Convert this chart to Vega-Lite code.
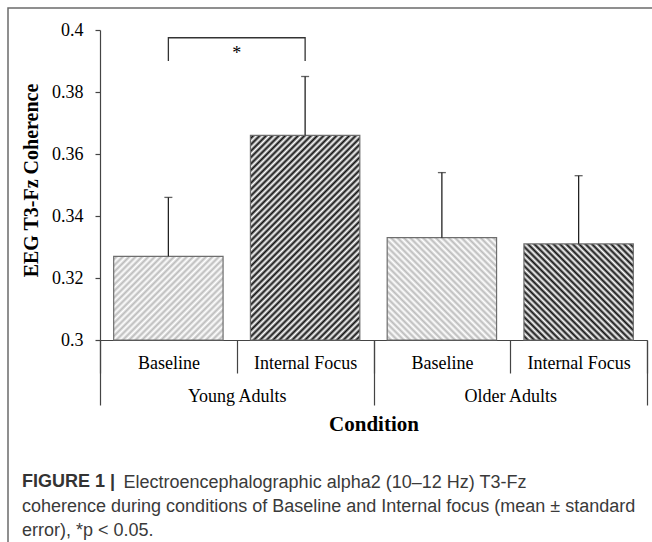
{
  "$schema": "https://vega.github.io/schema/vega-lite/v6.json",
  "autosize": {"type": "none"},
  "width": 645,
  "height": 535,
  "padding": {"left": 8, "top": 8, "right": -1, "bottom": -1},
  "background": "white",
  "config": {"view": {"stroke": "#6b6b6b", "strokeWidth": 1.5}, "axis": {"grid": false}},
  "title": {
    "text": "FIGURE 1 |",
    "subtitle": [
      "coherence during conditions of Baseline and Internal focus (mean ± standard",
      "error), *p < 0.05."
    ],
    "orient": "bottom",
    "anchor": "start",
    "frame": "group",
    "offset": -70,
    "dx": 14,
    "font": "Liberation Sans",
    "fontSize": 18,
    "fontWeight": "bold",
    "color": "#333333",
    "subtitleFont": "Liberation Sans",
    "subtitleFontSize": 18,
    "subtitleColor": "#3a3a3a",
    "subtitleLineHeight": 24.5,
    "subtitlePadding": 6.5
  },
  "data": {
    "values": [
      {"group": "Young Adults", "condition": "Baseline", "cell": "Young Adults|Baseline", "mean": 0.327, "upper": 0.346},
      {"group": "Young Adults", "condition": "Internal Focus", "cell": "Young Adults|Internal Focus", "mean": 0.366, "upper": 0.385},
      {"group": "Older Adults", "condition": "Baseline", "cell": "Older Adults|Baseline", "mean": 0.333, "upper": 0.354},
      {"group": "Older Adults", "condition": "Internal Focus", "cell": "Older Adults|Internal Focus", "mean": 0.331, "upper": 0.353}
    ]
  },
  "layer": [
    {
      "mark": {"type": "bar", "stroke": "#6e6e6e", "strokeWidth": 1.2},
      "encoding": {
        "x": {
          "field": "group", "type": "nominal",
          "scale": {"domain": ["Young Adults", "Older Adults"], "range": [92, 639], "paddingInner": 0, "paddingOuter": 0},
          "axis": {"orient": "bottom", "offset": -203, "domain": false, "tickBand": "extent", "tickSize": 65, "tickColor": "#444444", "tickWidth": 1.2,
                   "labelPadding": -18, "labelFont": "Liberation Serif", "labelFontSize": 18, "labelColor": "#000000", "labelAngle": 0, "labelOverlap": false,
                   "title": "Condition", "titleFont": "Liberation Serif", "titleFontSize": 21, "titleFontWeight": "bold", "titleColor": "#000000", "titlePadding": 8}
        },
        "xOffset": {"field": "condition", "type": "nominal", "scale": {"domain": ["Baseline", "Internal Focus"], "paddingInner": 0.2, "paddingOuter": 0.1}},
        "y": {
          "field": "mean", "type": "quantitative",
          "scale": {"domain": [0.3, 0.4], "range": [332, 22], "nice": false, "zero": false},
          "axis": {"orient": "left", "offset": -92, "values": [0.3, 0.32, 0.34, 0.36, 0.38, 0.4], "format": ".2~f",
                   "tickSize": 5, "tickColor": "#444444", "tickWidth": 1.2, "domainColor": "#444444", "domainWidth": 1.2,
                   "labelFont": "Liberation Serif", "labelFontSize": 18, "labelColor": "#000000", "labelPadding": 12,
                   "title": "EEG T3-Fz Coherence", "titleFont": "Liberation Serif", "titleFontSize": 20, "titleFontWeight": "bold", "titleColor": "#000000", "titlePadding": 10, "titleY": 172}
        },
        "y2": {"datum": 0.3},
        "fill": {
          "condition": [
            {"test": "datum.cell === 'Young Adults|Baseline'", "value": {"gradient": "linear", "x1": 0, "y1": 0, "x2": 1.845, "y2": 1.4116, "stops": [{"offset":0,"color":"#fff"},{"offset":0.01,"color":"#bbb"},{"offset":0.02,"color":"#fff"},{"offset":0.03,"color":"#bbb"},{"offset":0.04,"color":"#fff"},{"offset":0.05,"color":"#bbb"},{"offset":0.06,"color":"#fff"},{"offset":0.07,"color":"#bbb"},{"offset":0.08,"color":"#fff"},{"offset":0.09,"color":"#bbb"},{"offset":0.1,"color":"#fff"},{"offset":0.11,"color":"#bbb"},{"offset":0.12,"color":"#fff"},{"offset":0.13,"color":"#bbb"},{"offset":0.14,"color":"#fff"},{"offset":0.15,"color":"#bbb"},{"offset":0.16,"color":"#fff"},{"offset":0.17,"color":"#bbb"},{"offset":0.18,"color":"#fff"},{"offset":0.19,"color":"#bbb"},{"offset":0.2,"color":"#fff"},{"offset":0.21,"color":"#bbb"},{"offset":0.22,"color":"#fff"},{"offset":0.23,"color":"#bbb"},{"offset":0.24,"color":"#fff"},{"offset":0.25,"color":"#bbb"},{"offset":0.26,"color":"#fff"},{"offset":0.27,"color":"#bbb"},{"offset":0.28,"color":"#fff"},{"offset":0.29,"color":"#bbb"},{"offset":0.3,"color":"#fff"},{"offset":0.31,"color":"#bbb"},{"offset":0.32,"color":"#fff"},{"offset":0.33,"color":"#bbb"},{"offset":0.34,"color":"#fff"},{"offset":0.35,"color":"#bbb"},{"offset":0.36,"color":"#fff"},{"offset":0.37,"color":"#bbb"},{"offset":0.38,"color":"#fff"},{"offset":0.39,"color":"#bbb"},{"offset":0.4,"color":"#fff"},{"offset":0.41,"color":"#bbb"},{"offset":0.42,"color":"#fff"},{"offset":0.43,"color":"#bbb"},{"offset":0.44,"color":"#fff"},{"offset":0.45,"color":"#bbb"},{"offset":0.46,"color":"#fff"},{"offset":0.47,"color":"#bbb"},{"offset":0.48,"color":"#fff"},{"offset":0.49,"color":"#bbb"},{"offset":0.5,"color":"#fff"},{"offset":0.51,"color":"#bbb"},{"offset":0.52,"color":"#fff"},{"offset":0.53,"color":"#bbb"},{"offset":0.54,"color":"#fff"},{"offset":0.55,"color":"#bbb"},{"offset":0.56,"color":"#fff"},{"offset":0.57,"color":"#bbb"},{"offset":0.58,"color":"#fff"},{"offset":0.59,"color":"#bbb"},{"offset":0.6,"color":"#fff"},{"offset":0.61,"color":"#bbb"},{"offset":0.62,"color":"#fff"},{"offset":0.63,"color":"#bbb"},{"offset":0.64,"color":"#fff"},{"offset":0.65,"color":"#bbb"},{"offset":0.66,"color":"#fff"},{"offset":0.67,"color":"#bbb"},{"offset":0.68,"color":"#fff"},{"offset":0.69,"color":"#bbb"},{"offset":0.7,"color":"#fff"}]}},
            {"test": "datum.cell === 'Young Adults|Internal Focus'", "value": {"gradient": "linear", "x1": 0, "y1": 0, "x2": 0.6503, "y2": 1.2163, "stops": [{"offset":0,"color":"#fff"},{"offset":0.01,"color":"#111"},{"offset":0.02,"color":"#fff"},{"offset":0.03,"color":"#111"},{"offset":0.04,"color":"#fff"},{"offset":0.05,"color":"#111"},{"offset":0.06,"color":"#fff"},{"offset":0.07,"color":"#111"},{"offset":0.08,"color":"#fff"},{"offset":0.09,"color":"#111"},{"offset":0.1,"color":"#fff"},{"offset":0.11,"color":"#111"},{"offset":0.12,"color":"#fff"},{"offset":0.13,"color":"#111"},{"offset":0.14,"color":"#fff"},{"offset":0.15,"color":"#111"},{"offset":0.16,"color":"#fff"},{"offset":0.17,"color":"#111"},{"offset":0.18,"color":"#fff"},{"offset":0.19,"color":"#111"},{"offset":0.2,"color":"#fff"},{"offset":0.21,"color":"#111"},{"offset":0.22,"color":"#fff"},{"offset":0.23,"color":"#111"},{"offset":0.24,"color":"#fff"},{"offset":0.25,"color":"#111"},{"offset":0.26,"color":"#fff"},{"offset":0.27,"color":"#111"},{"offset":0.28,"color":"#fff"},{"offset":0.29,"color":"#111"},{"offset":0.3,"color":"#fff"},{"offset":0.31,"color":"#111"},{"offset":0.32,"color":"#fff"},{"offset":0.33,"color":"#111"},{"offset":0.34,"color":"#fff"},{"offset":0.35,"color":"#111"},{"offset":0.36,"color":"#fff"},{"offset":0.37,"color":"#111"},{"offset":0.38,"color":"#fff"},{"offset":0.39,"color":"#111"},{"offset":0.4,"color":"#fff"},{"offset":0.41,"color":"#111"},{"offset":0.42,"color":"#fff"},{"offset":0.43,"color":"#111"},{"offset":0.44,"color":"#fff"},{"offset":0.45,"color":"#111"},{"offset":0.46,"color":"#fff"},{"offset":0.47,"color":"#111"},{"offset":0.48,"color":"#fff"},{"offset":0.49,"color":"#111"},{"offset":0.5,"color":"#fff"},{"offset":0.51,"color":"#111"},{"offset":0.52,"color":"#fff"},{"offset":0.53,"color":"#111"},{"offset":0.54,"color":"#fff"},{"offset":0.55,"color":"#111"},{"offset":0.56,"color":"#fff"},{"offset":0.57,"color":"#111"},{"offset":0.58,"color":"#fff"},{"offset":0.59,"color":"#111"},{"offset":0.6,"color":"#fff"},{"offset":0.61,"color":"#111"},{"offset":0.62,"color":"#fff"},{"offset":0.63,"color":"#111"},{"offset":0.64,"color":"#fff"},{"offset":0.65,"color":"#111"},{"offset":0.66,"color":"#fff"},{"offset":0.67,"color":"#111"},{"offset":0.68,"color":"#fff"},{"offset":0.69,"color":"#111"},{"offset":0.7,"color":"#fff"},{"offset":0.71,"color":"#111"},{"offset":0.72,"color":"#fff"},{"offset":0.73,"color":"#111"},{"offset":0.74,"color":"#fff"},{"offset":0.75,"color":"#111"},{"offset":0.76,"color":"#fff"},{"offset":0.77,"color":"#111"},{"offset":0.78,"color":"#fff"},{"offset":0.79,"color":"#111"},{"offset":0.8,"color":"#fff"},{"offset":0.81,"color":"#111"},{"offset":0.82,"color":"#fff"},{"offset":0.83,"color":"#111"},{"offset":0.84,"color":"#fff"},{"offset":0.85,"color":"#111"},{"offset":0.86,"color":"#fff"},{"offset":0.87,"color":"#111"},{"offset":0.88,"color":"#fff"},{"offset":0.89,"color":"#111"},{"offset":0.9,"color":"#fff"},{"offset":0.91,"color":"#111"},{"offset":0.92,"color":"#fff"},{"offset":0.93,"color":"#111"},{"offset":0.94,"color":"#fff"},{"offset":0.95,"color":"#111"},{"offset":0.96,"color":"#fff"},{"offset":0.97,"color":"#111"},{"offset":0.98,"color":"#fff"},{"offset":0.99,"color":"#111"},{"offset":1,"color":"#fff"}]}},
            {"test": "datum.cell === 'Older Adults|Baseline'", "value": {"gradient": "linear", "x1": 1, "y1": 0, "x2": -0.5605, "y2": 1.4592, "stops": [{"offset":0,"color":"#fff"},{"offset":0.01,"color":"#bbb"},{"offset":0.02,"color":"#fff"},{"offset":0.03,"color":"#bbb"},{"offset":0.04,"color":"#fff"},{"offset":0.05,"color":"#bbb"},{"offset":0.06,"color":"#fff"},{"offset":0.07,"color":"#bbb"},{"offset":0.08,"color":"#fff"},{"offset":0.09,"color":"#bbb"},{"offset":0.1,"color":"#fff"},{"offset":0.11,"color":"#bbb"},{"offset":0.12,"color":"#fff"},{"offset":0.13,"color":"#bbb"},{"offset":0.14,"color":"#fff"},{"offset":0.15,"color":"#bbb"},{"offset":0.16,"color":"#fff"},{"offset":0.17,"color":"#bbb"},{"offset":0.18,"color":"#fff"},{"offset":0.19,"color":"#bbb"},{"offset":0.2,"color":"#fff"},{"offset":0.21,"color":"#bbb"},{"offset":0.22,"color":"#fff"},{"offset":0.23,"color":"#bbb"},{"offset":0.24,"color":"#fff"},{"offset":0.25,"color":"#bbb"},{"offset":0.26,"color":"#fff"},{"offset":0.27,"color":"#bbb"},{"offset":0.28,"color":"#fff"},{"offset":0.29,"color":"#bbb"},{"offset":0.3,"color":"#fff"},{"offset":0.31,"color":"#bbb"},{"offset":0.32,"color":"#fff"},{"offset":0.33,"color":"#bbb"},{"offset":0.34,"color":"#fff"},{"offset":0.35,"color":"#bbb"},{"offset":0.36,"color":"#fff"},{"offset":0.37,"color":"#bbb"},{"offset":0.38,"color":"#fff"},{"offset":0.39,"color":"#bbb"},{"offset":0.4,"color":"#fff"},{"offset":0.41,"color":"#bbb"},{"offset":0.42,"color":"#fff"},{"offset":0.43,"color":"#bbb"},{"offset":0.44,"color":"#fff"},{"offset":0.45,"color":"#bbb"},{"offset":0.46,"color":"#fff"},{"offset":0.47,"color":"#bbb"},{"offset":0.48,"color":"#fff"},{"offset":0.49,"color":"#bbb"},{"offset":0.5,"color":"#fff"},{"offset":0.51,"color":"#bbb"},{"offset":0.52,"color":"#fff"},{"offset":0.53,"color":"#bbb"},{"offset":0.54,"color":"#fff"},{"offset":0.55,"color":"#bbb"},{"offset":0.56,"color":"#fff"},{"offset":0.57,"color":"#bbb"},{"offset":0.58,"color":"#fff"},{"offset":0.59,"color":"#bbb"},{"offset":0.6,"color":"#fff"},{"offset":0.61,"color":"#bbb"},{"offset":0.62,"color":"#fff"},{"offset":0.63,"color":"#bbb"},{"offset":0.64,"color":"#fff"},{"offset":0.65,"color":"#bbb"},{"offset":0.66,"color":"#fff"},{"offset":0.67,"color":"#bbb"},{"offset":0.68,"color":"#fff"},{"offset":0.69,"color":"#bbb"},{"offset":0.7,"color":"#fff"}]}}
          ],
          "value": {"gradient": "linear", "x1": 1, "y1": 0, "x2": -0.651, "y2": 1.4503, "stops": [{"offset":0,"color":"#fff"},{"offset":0.01,"color":"#111"},{"offset":0.02,"color":"#fff"},{"offset":0.03,"color":"#111"},{"offset":0.04,"color":"#fff"},{"offset":0.05,"color":"#111"},{"offset":0.06,"color":"#fff"},{"offset":0.07,"color":"#111"},{"offset":0.08,"color":"#fff"},{"offset":0.09,"color":"#111"},{"offset":0.1,"color":"#fff"},{"offset":0.11,"color":"#111"},{"offset":0.12,"color":"#fff"},{"offset":0.13,"color":"#111"},{"offset":0.14,"color":"#fff"},{"offset":0.15,"color":"#111"},{"offset":0.16,"color":"#fff"},{"offset":0.17,"color":"#111"},{"offset":0.18,"color":"#fff"},{"offset":0.19,"color":"#111"},{"offset":0.2,"color":"#fff"},{"offset":0.21,"color":"#111"},{"offset":0.22,"color":"#fff"},{"offset":0.23,"color":"#111"},{"offset":0.24,"color":"#fff"},{"offset":0.25,"color":"#111"},{"offset":0.26,"color":"#fff"},{"offset":0.27,"color":"#111"},{"offset":0.28,"color":"#fff"},{"offset":0.29,"color":"#111"},{"offset":0.3,"color":"#fff"},{"offset":0.31,"color":"#111"},{"offset":0.32,"color":"#fff"},{"offset":0.33,"color":"#111"},{"offset":0.34,"color":"#fff"},{"offset":0.35,"color":"#111"},{"offset":0.36,"color":"#fff"},{"offset":0.37,"color":"#111"},{"offset":0.38,"color":"#fff"},{"offset":0.39,"color":"#111"},{"offset":0.4,"color":"#fff"},{"offset":0.41,"color":"#111"},{"offset":0.42,"color":"#fff"},{"offset":0.43,"color":"#111"},{"offset":0.44,"color":"#fff"},{"offset":0.45,"color":"#111"},{"offset":0.46,"color":"#fff"},{"offset":0.47,"color":"#111"},{"offset":0.48,"color":"#fff"},{"offset":0.49,"color":"#111"},{"offset":0.5,"color":"#fff"},{"offset":0.51,"color":"#111"},{"offset":0.52,"color":"#fff"},{"offset":0.53,"color":"#111"},{"offset":0.54,"color":"#fff"},{"offset":0.55,"color":"#111"},{"offset":0.56,"color":"#fff"},{"offset":0.57,"color":"#111"},{"offset":0.58,"color":"#fff"},{"offset":0.59,"color":"#111"},{"offset":0.6,"color":"#fff"},{"offset":0.61,"color":"#111"},{"offset":0.62,"color":"#fff"},{"offset":0.63,"color":"#111"},{"offset":0.64,"color":"#fff"},{"offset":0.65,"color":"#111"},{"offset":0.66,"color":"#fff"},{"offset":0.67,"color":"#111"},{"offset":0.68,"color":"#fff"},{"offset":0.69,"color":"#111"},{"offset":0.7,"color":"#fff"}]}
        }
      }
    },
    {
      "layer": [
        {
          "mark": {"type": "rule", "color": "#222222", "strokeWidth": 1.3},
          "encoding": {
            "x": {
              "field": "cell", "type": "nominal",
              "scale": {"domain": ["Young Adults|Baseline", "Young Adults|Internal Focus", "Older Adults|Baseline", "Older Adults|Internal Focus"], "range": [92, 639], "paddingInner": 0, "paddingOuter": 0},
              "axis": {"orient": "bottom", "offset": -203, "domain": true, "domainColor": "#444444", "domainWidth": 1.2, "tickBand": "extent", "tickSize": 33, "tickColor": "#444444", "tickWidth": 1.2,
                       "labelExpr": "split(datum.value, '|')[1]", "labelPadding": -19, "labelFont": "Liberation Serif", "labelFontSize": 18, "labelColor": "#000000", "labelAngle": 0, "labelOverlap": false,
                       "title": "Electroencephalographic alpha2 (10–12 Hz) T3-Fz", "titleFont": "Liberation Sans", "titleFontSize": 18, "titleFontWeight": "normal", "titleColor": "#3a3a3a",
                       "titleX": 115, "titleY": 147.5, "titleAlign": "left", "titleBaseline": "alphabetic", "titleAngle": 0}
            },
            "y": {"field": "mean", "type": "quantitative", "title": "EEG T3-Fz Coherence", "scale": {"domain": [0.3, 0.4], "range": [332, 22], "nice": false, "zero": false}},
            "y2": {"field": "upper"}
          }
        },
        {
          "mark": {"type": "tick", "color": "#222222", "thickness": 1.3, "size": 8},
          "encoding": {
            "x": {"field": "cell", "type": "nominal", "title": "Electroencephalographic alpha2 (10–12 Hz) T3-Fz"},
            "y": {"field": "upper", "type": "quantitative", "title": "EEG T3-Fz Coherence", "scale": {"domain": [0.3, 0.4], "range": [332, 22], "nice": false, "zero": false}}
          }
        },
        {
          "data": {
            "values": [
              {"cell": "Young Adults|Baseline", "level": 0.39, "step": 1},
              {"cell": "Young Adults|Baseline", "level": 0.3975, "step": 2},
              {"cell": "Young Adults|Internal Focus", "level": 0.3975, "step": 3},
              {"cell": "Young Adults|Internal Focus", "level": 0.39, "step": 4}
            ]
          },
          "mark": {"type": "line", "color": "#333333", "strokeWidth": 1.3, "interpolate": "linear"},
          "encoding": {
            "x": {"field": "cell", "type": "nominal", "title": "Electroencephalographic alpha2 (10–12 Hz) T3-Fz"},
            "y": {"field": "level", "type": "quantitative", "title": "EEG T3-Fz Coherence", "scale": {"domain": [0.3, 0.4], "range": [332, 22], "nice": false, "zero": false}},
            "order": {"field": "step", "type": "quantitative"}
          }
        },
        {
          "data": {"values": [{"cell": "Young Adults|Internal Focus", "level": 0.3905, "label": "*"}]},
          "mark": {"type": "text", "font": "Liberation Serif", "fontSize": 18, "align": "center", "baseline": "alphabetic", "color": "#000000"},
          "encoding": {
            "x": {"field": "cell", "type": "nominal", "title": "Electroencephalographic alpha2 (10–12 Hz) T3-Fz", "bandPosition": 0},
            "y": {"field": "level", "type": "quantitative", "title": "EEG T3-Fz Coherence", "scale": {"domain": [0.3, 0.4], "range": [332, 22], "nice": false, "zero": false}},
            "text": {"field": "label"}
          }
        }
      ]
    }
  ],
  "resolve": {"scale": {"x": "independent"}, "axis": {"x": "independent"}}
}
